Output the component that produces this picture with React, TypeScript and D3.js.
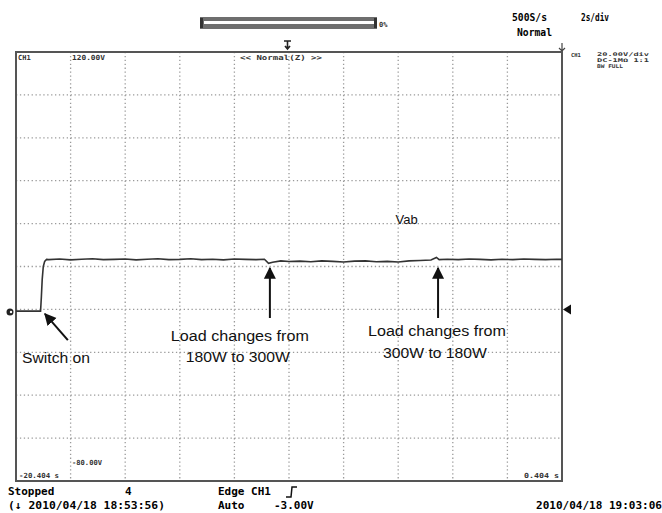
import React from "react";
import * as d3 from "d3";

const W = 662, H = 513;
// time elapsed (s) and voltage (V)
const traceT = [0, 0.5, 0.9, 0.93, 0.96, 1.0, 1.05, 1.12, 1.2, 1.6, 2.0, 2.4, 2.8, 3.2, 3.6, 4.0, 4.4, 4.8, 5.2, 5.6, 6.0, 6.4, 6.8, 7.2, 7.6, 8.0, 8.4, 8.8, 9.1, 9.25, 9.4, 9.7, 10.0, 10.4, 10.8, 11.2, 11.6, 12.0, 12.4, 12.8, 13.2, 13.6, 14.0, 14.4, 14.8, 15.2, 15.4, 15.5, 15.8, 16.2, 16.6, 17.0, 17.4, 17.8, 18.2, 18.6, 19.0, 19.4, 19.8, 20.0];
const traceV = [-0.8, -0.8, -0.8, 6, 14, 20, 22.4, 23.3, 23.2, 23.5, 23.1, 23.4, 23.6, 23.2, 23.3, 23.5, 23.1, 23.4, 23.6, 23.2, 23.3, 23.6, 23.2, 23.4, 23.1, 23.5, 23.3, 23.2, 23.4, 21.5, 22.0, 22.6, 22.3, 22.5, 22.2, 22.6, 22.4, 22.1, 22.5, 22.6, 22.2, 22.4, 22.1, 22.6, 22.8, 23.0, 24.2, 23.2, 23.4, 23.2, 23.5, 23.3, 23.1, 23.4, 23.2, 23.5, 23.3, 23.2, 23.4, 23.3];
const timeTicks = [0, 2, 4, 6, 8, 10, 12, 14, 16, 18, 20];
const voltTicks = [-80, -60, -40, -20, 0, 20, 40, 60, 80, 100, 120];
const topLabel = "120.00V";
const bottomLabel = "-80.00V";
const leftTime = "-20.404 s";
const rightTime = "0.404 s";
const arrowsT = [9.3, 15.46];
const labelCenterT = [8.2, 15.42];
const loadLabels = [["Load changes from", "180W to 300W"], ["Load changes from", "300W to 180W"]];

export default function App() {
  const x = d3.scaleLinear().domain([0, 20]).range([16, 562]);
  const y = d3.scaleLinear().domain([-80, 120]).range([481, 52]);
  const line = d3.line<number>().x((_, i) => x(traceT[i])).y((v) => y(v));
  const mono = "'DejaVu Sans Mono', monospace";
  const sans = "'Liberation Sans', Arial, sans-serif";
  const gridColor = "#9a9a9a";
  const line1Y = [-14.8, -12.6];
  const line2Y = [-24.4, -22.6];
  return (
    <svg width={W} height={H} style={{ position: "absolute", left: 0, top: 0, background: "#fff" }}>
      <defs>
        <marker id="ah" viewBox="0 0 10 10" refX="9" refY="5" markerWidth="6" markerHeight="7" orient="auto">
          <path d="M0,0 L10,5 L0,10 z" fill="#111" />
        </marker>
      </defs>
      {/* scroll bar */}
      <rect x={200} y={17} width={177} height={12} fill="#6e6e6e" />
      <rect x={204} y={21} width={170} height={3} fill="#fff" />
      <rect x={200} y={18} width={3} height={10} fill="#333" />
      <rect x={374} y={18} width={3} height={10} fill="#333" />
      <text x={379} y={27} fontFamily={mono} fontSize={7} fontWeight="bold" fill="#333">0%</text>
      <text x={512} y={21} fontFamily={mono} fontSize={10} fontWeight="bold" textLength={35} lengthAdjust="spacingAndGlyphs">500S/s</text>
      <text x={581} y={21} fontFamily={mono} fontSize={10} fontWeight="bold" textLength={28} lengthAdjust="spacingAndGlyphs">2s/div</text>
      <text x={517} y={36} fontFamily={mono} fontSize={10} fontWeight="bold" textLength={35} lengthAdjust="spacingAndGlyphs">Normal</text>
      {/* trigger marker */}
      <path d="M284,41 L291,41 M287.5,41 L287.5,49 M285,46 L287.5,49 L290,46" stroke="#222" strokeWidth={1.6} fill="none" />
      <path d="M562,43 L562,51 M559,48 L562,51 L565,48" stroke="#444" strokeWidth={1.2} fill="none" />
      {/* grid */}
      {timeTicks.slice(1, -1).map((t) => (
        <line key={"v" + t} x1={x(t)} x2={x(t)} y1={52} y2={481} stroke={gridColor} strokeWidth={1.3} strokeDasharray="1.3,2.6" />
      ))}
      {voltTicks.slice(1, -1).map((v) => (
        <line key={"h" + v} x1={16} x2={562} y1={y(v)} y2={y(v)} stroke={gridColor} strokeWidth={1.3} strokeDasharray="1.3,2.6" />
      ))}
      {/* frame */}
      <path d={`M${x(0)},${y(120)} L${x(20)},${y(120)} L${x(20)},${y(-80)} L${x(0)},${y(-80)} Z`} fill="none" stroke="#555" strokeWidth={2} />
      {/* labels inside grid */}
      <text x={18} y={60} fontFamily={mono} fontSize={7} fontWeight="bold" fill="#333">CH1</text>
      <text x={72} y={60} fontFamily={mono} fontSize={7} fontWeight="bold" fill="#333" textLength={33} lengthAdjust="spacingAndGlyphs">{topLabel}</text>
      <text x={240} y={60} fontFamily={mono} fontSize={7} fontWeight="bold" fill="#333" textLength={82} lengthAdjust="spacingAndGlyphs">{"<< Normal(Z) >>"}</text>
      <text x={72} y={465} fontFamily={mono} fontSize={7} fontWeight="bold" fill="#333" textLength={30} lengthAdjust="spacingAndGlyphs">{bottomLabel}</text>
      <text x={19} y={478} fontFamily={mono} fontSize={7} fontWeight="bold" fill="#333" textLength={40} lengthAdjust="spacingAndGlyphs">{leftTime}</text>
      <text x={524} y={478} fontFamily={mono} fontSize={7} fontWeight="bold" fill="#333" textLength={35} lengthAdjust="spacingAndGlyphs">{rightTime}</text>
      {/* right panel */}
      <text x={571} y={57} fontFamily={mono} fontSize={5.5} fontWeight="bold" fill="#333">CH1</text>
      <text x={597} y={56} fontFamily={mono} fontSize={5} fontWeight="bold" fill="#333" textLength={52} lengthAdjust="spacingAndGlyphs">20.00V/div</text>
      <text x={597} y={62} fontFamily={mono} fontSize={5} fontWeight="bold" fill="#333" textLength={52} lengthAdjust="spacingAndGlyphs">DC-1MΩ  1:1</text>
      <text x={597} y={68} fontFamily={mono} fontSize={5} fontWeight="bold" fill="#333" textLength={26} lengthAdjust="spacingAndGlyphs">BW FULL</text>
      {/* ground markers */}
      <circle cx={10} cy={y(-1.2)} r={3.5} fill="#222" />
      <circle cx={11} cy={y(-1.2)} r={1.2} fill="#fff" />
      <path d={`M563,${y(0)} L571,${y(0) - 5} L571,${y(0) + 5} Z`} fill="#111" />
      {/* trace */}
      <path d={line(traceV) || ""} fill="none" stroke="#333" strokeWidth={1.6} />
      {/* annotations */}
      <text x={x(13.9)} y={y(40)} fontFamily={sans} fontSize={13} fill="#111">Vab</text>
      {arrowsT.map((t, i) => (
        <g key={"a" + i}>
          <line x1={x(t)} x2={x(t)} y1={y(-4)} y2={y(19.3)} stroke="#111" strokeWidth={2} markerEnd="url(#ah)" />
          <text x={x(labelCenterT[i])} y={y(line1Y[i])} textAnchor="middle" fontFamily={sans} fontSize={14} fill="#111" textLength={138} lengthAdjust="spacingAndGlyphs">{loadLabels[i][0]}</text>
          <text x={x(labelCenterT[i]) - 2} y={y(line2Y[i])} textAnchor="middle" fontFamily={sans} fontSize={14} fill="#111" textLength={104} lengthAdjust="spacingAndGlyphs">{loadLabels[i][1]}</text>
        </g>
      ))}
      <line x1={x(1.9)} y1={y(-14.3)} x2={x(1.06)} y2={y(-2.1)} stroke="#111" strokeWidth={2} markerEnd="url(#ah)" />
      <text x={22} y={363} fontFamily={sans} fontSize={14} fill="#111" textLength={68} lengthAdjust="spacingAndGlyphs">Switch on</text>
      {/* bottom status */}
      <text x={8} y={495} fontFamily={mono} fontSize={11} fontWeight="bold">Stopped</text>
      <text x={125} y={495} fontFamily={mono} fontSize={11} fontWeight="bold">4</text>
      <text x={8} y={509} fontFamily={mono} fontSize={11} fontWeight="bold" textLength={157} lengthAdjust="spacingAndGlyphs">(↓ 2010/04/18 18:53:56)</text>
      <text x={218} y={495} fontFamily={mono} fontSize={11} fontWeight="bold">Edge CH1</text>
      <path d="M286,497 L291,497 L292,487 L297,487" fill="none" stroke="#111" strokeWidth={1.5} />
      <text x={218} y={509} fontFamily={mono} fontSize={11} fontWeight="bold">Auto</text>
      <text x={274} y={509} fontFamily={mono} fontSize={11} fontWeight="bold">-3.00V</text>
      <text x={536} y={509} fontFamily={mono} fontSize={11} fontWeight="bold" textLength={126} lengthAdjust="spacingAndGlyphs">2010/04/18 19:03:06</text>
    </svg>
  );
}
